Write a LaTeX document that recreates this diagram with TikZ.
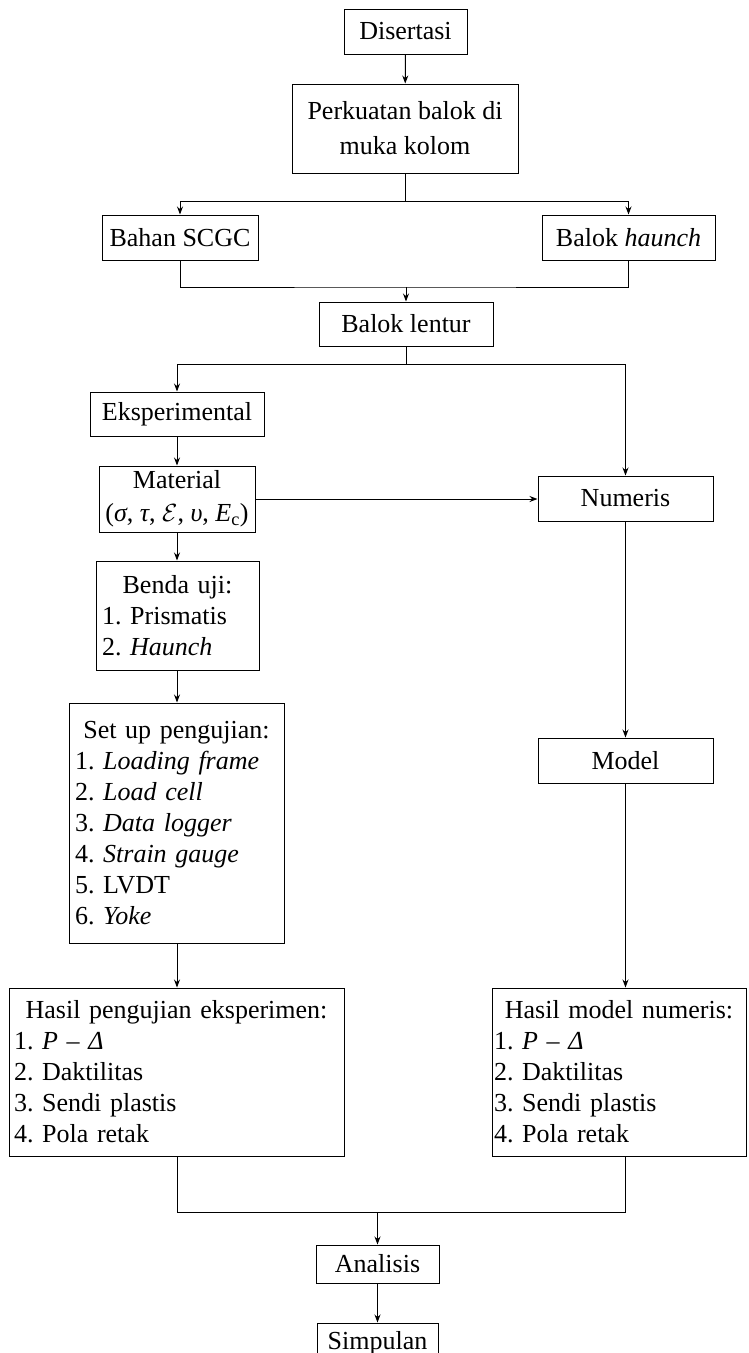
\documentclass[tikz,border=0pt]{standalone}
\usepackage{fontspec}
\setmainfont{Liberation Serif}
\usetikzlibrary{arrows.meta}
\frenchspacing
\begin{document}
\begin{tikzpicture}[x=1pt,y=-1pt,
  box/.style={draw,line width=1pt,inner sep=0pt,font=\fontsize{26}{31}\selectfont\frenchspacing,align=center},
  lst/.style={box,align=left},
  conn/.style={line width=1pt},
  arr/.style={conn,-{Stealth[length=8pt,width=6pt]}}
]
\useasboundingbox (0,0) rectangle (748,1353);

\node[box,minimum width=123pt,minimum height=45pt] (dis) at (405.5,31.5) {Disertasi};
\node[box,minimum width=226pt,minimum height=89pt,font=\fontsize{26}{35}\selectfont] (perk) at (405,128.5) {Perkuatan balok di\\muka kolom};
\node[box,minimum width=156pt,minimum height=45pt] (bahan) at (180,237.5) {Bahan SCGC};
\node[box,minimum width=173pt,minimum height=45pt] (haunch) at (628.5,237.5) {Balok \textit{haunch}};
\node[box,minimum width=174pt,minimum height=44pt] (lentur) at (406,324) {Balok lentur};
\node[box,minimum width=174pt,minimum height=44pt] (eksp) at (177,414) {Eksperimental};
\node[box,minimum width=156pt,minimum height=66pt,font=\fontsize{26}{33}\selectfont] (mat) at (177,499) {Material\\(\textit{σ}, \textit{τ}, $\mathcal{E}$, \textit{υ}, \textit{E}\textsubscript{c})};
\node[box,minimum width=175pt,minimum height=45pt] (num) at (625.5,498.5) {Numeris};
\node[lst,minimum width=163pt,minimum height=109pt,text width=151pt] (benda) at (177.5,615.5)
  {\centering Benda uji:\par\raggedright 1. Prismatis\par 2. \textit{Haunch}};
\node[lst,minimum width=215pt,minimum height=240pt,text width=203pt] (setup) at (176.5,823)
  {\centering Set up pengujian:\par\raggedright 1. \textit{Loading frame}\par 2. \textit{Load cell}\par 3. \textit{Data logger}\par 4. \textit{Strain gauge}\par 5. LVDT\par 6. \textit{Yoke}};
\node[box,minimum width=175pt,minimum height=45pt] (model) at (625.5,760.5) {Model};
\node[lst,minimum width=335pt,minimum height=168pt,text width=325pt] (hasilE) at (176.5,1072)
  {\centering Hasil pengujian eksperimen:\par\raggedright 1. \textit{P} – \textit{Δ}\par 2. Daktilitas\par 3. Sendi plastis\par 4. Pola retak};
\node[lst,minimum width=254pt,minimum height=168pt,text width=250pt] (hasilM) at (619,1072)
  {\centering Hasil model numeris:\par\raggedright 1. \textit{P} – \textit{Δ}\par 2. Daktilitas\par 3. Sendi plastis\par 4. Pola retak};
\node[box,minimum width=123pt,minimum height=38pt] (anal) at (377.5,1264) {Analisis};
\node[box,minimum width=121pt,minimum height=40pt] (simp) at (377.5,1343) {Simpulan};

\coordinate (j1) at (405,201);
\coordinate (j2) at (406,287);
\coordinate (j3) at (406,364);
\coordinate (j4) at (377.5,1212);

\draw[arr] (dis) -- (perk);
\draw[conn] (perk.south) -- (j1);
\draw[arr] (j1) -| (bahan.north);
\draw[arr] (j1) -| (haunch.north);
\draw[conn] (bahan.south) |- (j2) -| (haunch.south);
\draw[arr] (j2) -- (lentur.north);
\draw[conn] (lentur.south) -- (j3);
\draw[arr] (j3) -| (eksp.north);
\draw[arr] (j3) -| (num.north);
\draw[arr] (eksp) -- (mat);
\draw[arr] (mat.east) -- (mat.east -| num.west);
\draw[arr] (mat.south) -- (mat.south |- benda.north);
\draw[arr] (benda.south -| mat.south) -- (mat.south |- setup.north);
\draw[arr] (setup.south -| mat.south) -- (mat.south |- hasilE.north);
\draw[arr] (num) -- (model);
\draw[arr] (model.south) -- (model.south |- hasilM.north);
\draw[conn] (hasilE.south -| mat.south) |- (j4);
\draw[conn] (hasilM.south -| model.south) |- (j4);
\draw[arr] (j4) -- (anal.north);
\draw[arr] (anal) -- (simp);
\end{tikzpicture}
\end{document}
